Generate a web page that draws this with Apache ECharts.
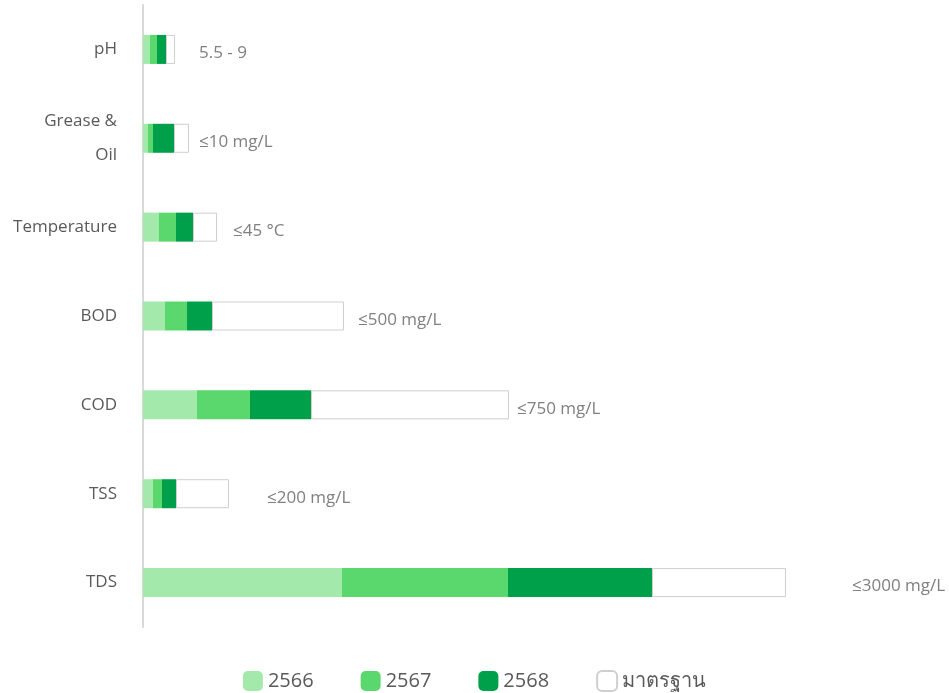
<!DOCTYPE html>
<html>
<head>
<meta charset="utf-8">
<script src="https://cdn.jsdelivr.net/npm/echarts@6/dist/echarts.min.js"></script>
<style>
  html, body { margin: 0; padding: 0; background: #fff; }
  #main { width: 949px; height: 693px; }
</style>
</head>
<body>
<div id="main"></div>
<script>
// parameters, top to bottom
var categories = ['pH', 'Grease &\nOil', 'Temperature', 'BOD', 'COD', 'TSS', 'TDS'];
var standardText = ['5.5 - 9', '≤10 mg/L', '≤45 °C', '≤500 mg/L', '≤750 mg/L', '≤200 mg/L', '≤3000 mg/L'];
var seriesNames = ['2566', '2567', '2568', 'มาตรฐาน'];
// bar lengths as drawn (no scale shown on the chart)
var y2566 = [7, 5, 16, 22, 54, 10, 199];
var y2567 = [7, 5, 17, 22, 53, 9, 166];
var y2568 = [9, 21, 17, 25, 61, 14, 144];
var yStandard = [9, 15, 24, 132, 198, 53, 134];

var colors = ['#a3e9ab', '#5ad86e', '#00a04a'];
var labelGap = [24, 10, 16, 14, 8, 38, 66];

var myChart = echarts.init(document.getElementById('main'));

var standardData = [];
for (var i = 0; i < yStandard.length; i++) {
    standardData.push({
        value: yStandard[i],
        label: { distance: labelGap[i] }
    });
}

function yearSeries(name, data, color) {
    return {
        name: name,
        type: 'bar',
        stack: 'all',
        barWidth: 29,
        data: data,
        itemStyle: { color: color },
        emphasis: { disabled: true }
    };
}

var option = {
    animation: false,
    textStyle: { fontFamily: '"Open Sans", "Noto Sans", sans-serif' },
    grid: { left: 143, top: 5, bottom: 66, width: 800 },
    xAxis: {
        type: 'value',
        min: 0,
        max: 800,
        show: false
    },
    yAxis: {
        type: 'category',
        inverse: true,
        data: categories,
        axisLine: { show: true, lineStyle: { color: '#d9d9d9', width: 2 } },
        axisTick: { show: false },
        axisLabel: {
            margin: 26,
            fontSize: 17,
            color: '#595959',
            lineHeight: 34
        }
    },
    legend: {
        data: seriesNames,
        left: 'center',
        top: 665,
        itemWidth: 20,
        itemHeight: 20,
        itemGap: 47,
        textStyle: { fontSize: 20, color: '#595959' }
    },
    series: [
        yearSeries(seriesNames[0], y2566, colors[0]),
        yearSeries(seriesNames[1], y2567, colors[1]),
        yearSeries(seriesNames[2], y2568, colors[2]),
        {
            name: seriesNames[3],
            type: 'bar',
            stack: 'all',
            barWidth: 29,
            data: standardData,
            itemStyle: { color: '#ffffff', borderColor: '#cfcfcf', borderWidth: 1 },
            emphasis: { disabled: true },
            label: {
                show: true,
                position: 'right',
                offset: [0, 4],
                fontSize: 17,
                color: '#808080',
                formatter: function (p) { return standardText[p.dataIndex]; }
            }
        }
    ]
};
myChart.setOption(option);
</script>
</body>
</html>
